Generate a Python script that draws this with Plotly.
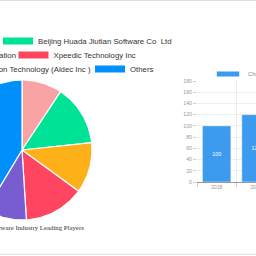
import math
import plotly.graph_objects as go

# ---------------- data ----------------
players = [
    "Synopsys",
    "Beijing Huada Jiutian Software Co  Ltd",
    "Siemens EDA Corporation",
    "Xpeedic Technology Inc",
    "Design Automation Technology (Aldec Inc )",
    "Others",
]
shares = [9.3, 14.0, 11.7, 14.0, 9.6, 41.4]
pie_colors = ["#F9A3A4", "#00E396", "#FEB019", "#FF4560", "#775DD0", "#008FFB"]

years = ["2018", "2019"]
market_size = [100, 120]
bar_name = "China EDA Software Market Size"
bar_color = "#3C9BEE"

title_text = "China EDA Software Industry Leading Players"
y_ticks = [0, 20, 40, 60, 80, 100, 120, 140, 160, 180]

# ---------------- layout constants ----------------
W = H = 256
PIE_R = 70
legend_rows = ["legend", "legend", "legend2", "legend2", "legend3", "legend3"]
legend_entry_w = [30, 131, 83.5, 82, 143, 22]

fig = go.Figure()

total = sum(shares)
acc = 0.0
for name, v, c, lg, lw in zip(players, shares, pie_colors, legend_rows, legend_entry_w):
    a0 = acc / total * 360.0
    a1 = (acc + v) / total * 360.0
    n = max(2, int(math.ceil(a1 - a0)))
    angs = [a0 + (a1 - a0) * k / n for k in range(n + 1)]
    xs = [0.0] + [PIE_R * math.sin(math.radians(a)) for a in angs] + [0.0]
    ys = [0.0] + [PIE_R * math.cos(math.radians(a)) for a in angs] + [0.0]
    fig.add_trace(go.Scatter(
        x=xs, y=ys, xaxis="x2", yaxis="y2", mode="lines", fill="toself",
        fillcolor=c, line=dict(color="white", width=1.2), hoveron="fills",
        name=name, text=f"{name}: {v}%", hoverinfo="text", showlegend=False,
    ))
    fig.add_trace(go.Scatter(
        x=[None], y=[None], xaxis="x2", yaxis="y2", mode="lines",
        line=dict(color=c, width=7), name=name, legend=lg, legendwidth=lw,
        showlegend=True, hoverinfo="skip",
    ))
    acc += v

fig.add_trace(go.Bar(
    x=years, y=market_size, marker_color=bar_color, text=market_size,
    textposition="inside", insidetextanchor="middle", textangle=0,
    textfont=dict(color="white", size=5.4, family="Liberation Sans"),
    name=bar_name, showlegend=False, xaxis="x", yaxis="y",
))
fig.add_trace(go.Scatter(
    x=[None], y=[None], mode="markers",
    marker=dict(symbol="line-ew-open", size=17, color=bar_color,
                line=dict(color=bar_color, width=5)),
    name=bar_name, legend="legend4", showlegend=True, hoverinfo="skip",
    xaxis="x", yaxis="y",
))

legend_font = dict(family="Liberation Sans", size=7.8, color="#333")
tick_font = dict(family="Liberation Sans", size=5.2, color="#999")


def leg(x_px, y_px, anchor, font):
    return dict(orientation="h", x=x_px / W, xanchor=anchor,
                y=(H - y_px) / H, yanchor="middle", font=font,
                bgcolor="rgba(0,0,0,0)", borderwidth=0, itemwidth=30,
                traceorder="normal")


fig.update_layout(
    width=W, height=H,
    margin=dict(l=0, r=0, t=0, b=0, pad=0, autoexpand=False),
    paper_bgcolor="white", plot_bgcolor="white",
    bargap=0.28,
    xaxis=dict(domain=[197 / W, 1], type="category", range=[-0.5, 1.0],
               tickson="boundaries", ticks="outside", ticklen=4,
               tickcolor="#ccc", showgrid=True, gridcolor="#eee",
               showline=True, linecolor="#999", tickfont=tick_font,
               anchor="y", fixedrange=True),
    yaxis=dict(domain=[74 / H, 175 / H], range=[0, 180], tickvals=y_ticks,
               ticks="outside", ticklen=3, tickcolor="#ccc", showgrid=True,
               gridcolor="#eee", zeroline=False, showline=False,
               tickfont=tick_font, anchor="x", fixedrange=True),
    xaxis2=dict(domain=[0, 0.5], range=[-22, 106], visible=False,
                anchor="y2", fixedrange=True),
    yaxis2=dict(domain=[0, 1], range=[-106, 150], visible=False,
                anchor="x2", fixedrange=True),
    legend=leg(174, 41, "right", legend_font),
    legend2=leg(141, 55, "right", legend_font),
    legend3=leg(157, 69, "right", legend_font),
    legend4=leg(208, 74, "left", dict(family="Liberation Sans", size=5.8, color="#888")),
    annotations=[dict(text=title_text, xref="paper", yref="paper",
                      x=86 / W, y=(H - 227) / H, xanchor="right",
                      yanchor="middle", showarrow=False,
                      font=dict(family="Liberation Serif", size=6.8, color="#333"))],
    shapes=[
        dict(type="line", xref="paper", yref="paper", x0=0, x1=1,
             y0=(H - 0.5) / H, y1=(H - 0.5) / H,
             line=dict(color="#e0e0e0", width=1)),
        dict(type="line", xref="paper", yref="paper", x0=0, x1=1,
             y0=(H - 254.3) / H, y1=(H - 254.3) / H,
             line=dict(color="#e0e0e0", width=1)),
    ],
)

fig.write_html("out.html", config={"displayModeBar": False})
